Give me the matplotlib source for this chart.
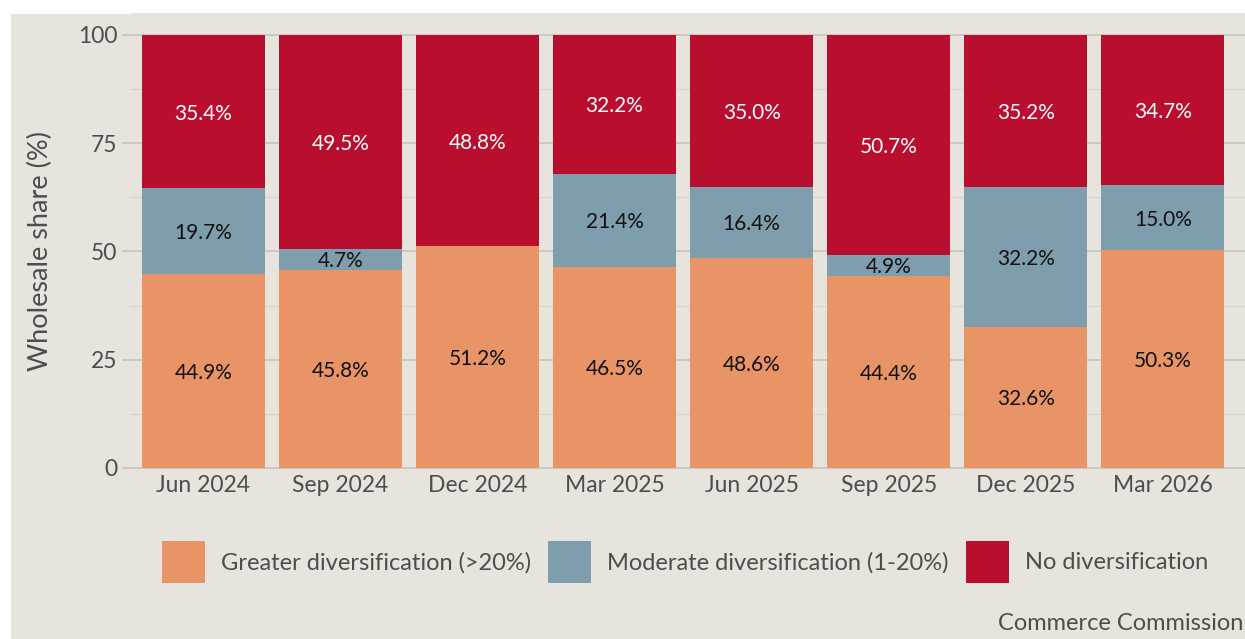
import matplotlib.pyplot as plt
from matplotlib.patches import Patch, Rectangle
import numpy as np

plt.rcParams['font.family'] = ['Lato', 'DejaVu Sans']

quarters = ['Jun 2024', 'Sep 2024', 'Dec 2024', 'Mar 2025',
            'Jun 2025', 'Sep 2025', 'Dec 2025', 'Mar 2026']
greater = [44.9, 45.8, 51.2, 46.5, 48.6, 44.4, 32.6, 50.3]
moderate = [19.7, 4.7, 0.0, 21.4, 16.4, 4.9, 32.2, 15.0]
none_div = [35.4, 49.5, 48.8, 32.2, 35.0, 50.7, 35.2, 34.7]

series = [('Greater diversification (>20%)', greater, '#E89467', '#111111'),
          ('Moderate diversification (1-20%)', moderate, '#7E9EAE', '#111111'),
          ('No diversification', none_div, '#B90E2E', 'white')]

bg = '#E6E4DD'
txt = '#4D4D4D'
W, H = 1245, 639

fig = plt.figure(figsize=(W / 100, H / 100), dpi=100)
fig.patch.set_facecolor('white')
fig.patches.append(Rectangle((11 / W, 0), 1, (H - 14) / H, transform=fig.transFigure,
                             facecolor=bg, edgecolor='none', zorder=-10))

ax = fig.add_axes([130 / W, (H - 489.6) / H, 1115 / W, (489.6 - 13.35) / H])
ax.set_facecolor(bg)
for s in ax.spines.values():
    s.set_visible(False)

x = np.arange(len(quarters))
bottom = np.zeros(len(quarters))
for name, vals, col, lab_col in series:
    vals = np.array(vals)
    ax.bar(x, vals, 0.9, bottom=bottom, color=col, label=name, zorder=3)
    for xi, b, v in zip(x, bottom, vals):
        if v > 0:
            ax.text(xi, b + v / 2, f'{v:.1f}%', ha='center', va='center_baseline',
                    fontsize=15, color=lab_col, zorder=4)
    bottom += vals

ax.set_xlim(-0.536, 7.60)
ax.set_ylim(-5, 105)
ax.set_yticks([0, 25, 50, 75, 100])
ax.set_yticks(np.arange(12.5, 100, 25), minor=True)
ax.grid(axis='y', which='major', color='#C4C2BC', linewidth=1.1, zorder=0)
ax.grid(axis='y', which='minor', color='#D6D4CD', linewidth=0.8, zorder=0)
ax.set_xticks(x)
ax.set_xticklabels(quarters)
ax.tick_params(axis='x', length=0, pad=-10.5, labelsize=16.5, labelcolor=txt)
ax.tick_params(axis='y', which='major', length=6, width=1.1, color='#C4C2BC',
               pad=3, labelsize=16.5, labelcolor=txt)
ax.tick_params(axis='y', which='minor', length=0)
ax.set_ylabel('Wholesale share (%)', fontsize=19.5, color=txt, labelpad=18)

handles = [Patch(facecolor=c, edgecolor='none') for _, _, c, _ in series]
fig.legend(handles, [n for n, _, _, _ in series], loc='center',
           bbox_to_anchor=(685 / W, 1 - 562 / H), ncol=3, frameon=False,
           fontsize=17, labelcolor=txt, handlelength=1.82, handleheight=2.42,
           handletextpad=0.68, columnspacing=0.72)

fig.text(1243 / W, 1 - 623 / H, 'Commerce Commission', ha='right', va='center',
         fontsize=17, color=txt)

fig.savefig('out.png', dpi=100, facecolor=fig.get_facecolor())
